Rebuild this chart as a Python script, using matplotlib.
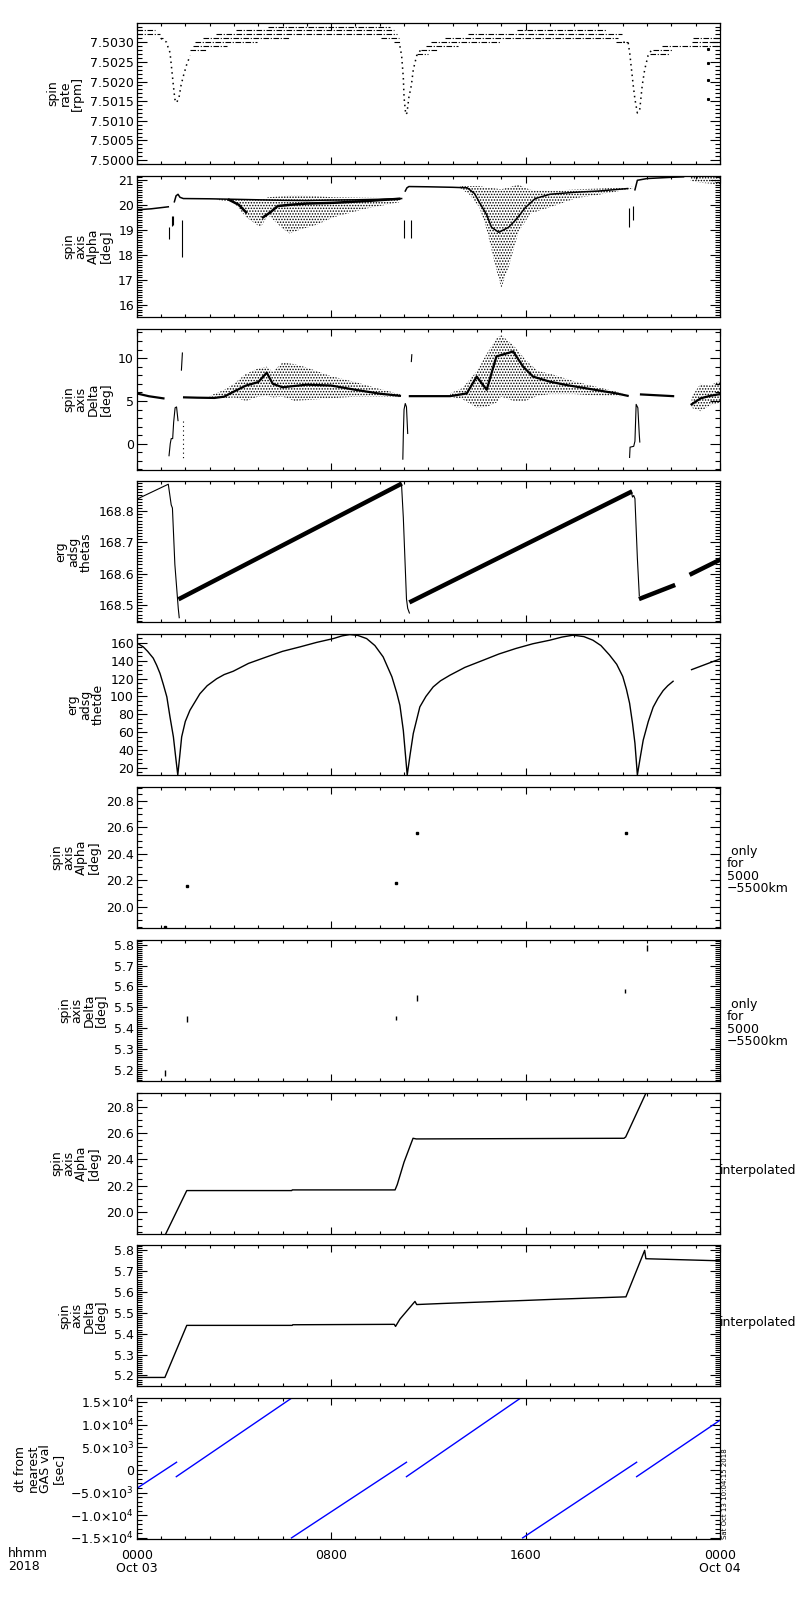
import matplotlib
matplotlib.use('Agg')
import matplotlib.pyplot as plt
from matplotlib.ticker import MultipleLocator, FormatStrFormatter, FuncFormatter, FixedLocator, FixedFormatter
import numpy as np

nan = np.nan

# ---------------- panel 1: spin rate [rpm] ----------------
# quantised levels drawn as horizontal dashed runs (start hour, end hour, level)
rateSegStart = [0.0, 0.0, 0.97, 2.20, 2.33, 2.40, 2.72, 3.27, 4.10, 5.41, 10.05, 10.60,
                11.52, 11.68, 11.90, 12.10, 12.68, 13.64, 15.63, 19.74, 21.11, 21.25, 21.60, 22.83, 22.90]
rateSegEnd = [0.75, 0.97, 1.10, 2.90, 3.70, 4.95, 6.30, 10.70, 10.60, 10.42, 10.80, 10.85,
              12.00, 12.38, 13.23, 14.94, 19.80, 19.95, 19.33, 20.22, 21.94, 22.07, 24.0, 24.0, 24.0]
rateSegLevel = [7.5033, 7.5032, 7.5031, 7.5028, 7.5029, 7.5030, 7.5031, 7.5032, 7.5033, 7.5034, 7.5031, 7.5030,
                7.5027, 7.5028, 7.5029, 7.5030, 7.5031, 7.5032, 7.5033, 7.5030, 7.5027, 7.5028, 7.5029, 7.5030, 7.5031]
# the three perigee dips
rateDipHour = [1.00, 1.23, 1.30, 1.37, 1.44, 1.51, 1.57, 1.64, 1.74, 1.82, 1.92, 2.06, 2.20, nan,
               10.83, 10.90, 10.97, 11.00, 11.07, 11.12, 11.20, 11.30, 11.38, 11.52, 11.68, nan,
               20.02, 20.22, 20.29, 20.36, 20.43, 20.50, 20.60, 20.70, 20.80, 20.90, 21.04, 21.18]
rateDipRpm = [7.5031, 7.5030, 7.50285, 7.50274, 7.50232, 7.50189, 7.50155, 7.50146, 7.50159, 7.50189, 7.50214, 7.50244, 7.50266, nan,
              7.5029, 7.50266, 7.5021, 7.5016, 7.50116, 7.5012, 7.5016, 7.5019, 7.5023, 7.50266, 7.5028, nan,
              7.5030, 7.5030, 7.5027, 7.5023, 7.5019, 7.50155, 7.5012, 7.5013, 7.5019, 7.5023, 7.50266, 7.5028]
rateOddHour = [23.51, 23.51, 23.51, 23.51]
rateOddRpm = [7.50282, 7.50248, 7.50205, 7.50155]

# ---------------- panel 2: spin axis alpha [deg] ----------------
alphaLineHour = [0.0, 0.6, 1.30, nan,
                 1.55, 1.62, 1.70, 1.78, 1.92, 3.0, 4.0, 5.0, 6.0, 7.0, 8.0, 9.0, 10.0, 10.9, nan,
                 11.05, 11.12, 11.20, 12.0, 13.0, 13.6, 13.9, 14.1, 14.4, 14.6, 14.9, 15.3, 15.6, 16.0, 16.4, 17.0, 18.0, 19.0, 20.2, nan,
                 20.5, 20.6, 21.0, 22.0, 22.5]
alphaLineDeg = [19.80, 19.84, 19.92, nan,
                20.12, 20.36, 20.42, 20.30, 20.25, 20.24, 20.22, 20.20, 20.18, 20.17, 20.19, 20.20, 20.22, 20.25, nan,
                20.55, 20.68, 20.73, 20.72, 20.70, 20.68, 20.45, 20.10, 19.60, 19.10, 18.90, 19.10, 19.40, 19.90, 20.25, 20.42, 20.50, 20.55, 20.65, nan,
                20.60, 20.98, 21.05, 21.10, 21.12]
alphaCoreHour = [3.8, 4.2, 4.5, nan, 5.2, 5.5, 5.8, 6.3, 7.0, 8.1, 9.45, 10.8]
alphaCoreDeg = [20.2, 20.0, 19.7, nan, 19.5, 19.7, 19.95, 20.0, 20.05, 20.08, 20.15, 20.24]
# scattered regions (lower / upper envelope)
alphaBand1Hour = [3.3, 4.0, 4.5, 5.1, 5.4, 6.0, 6.3, 6.7, 7.4, 8.1, 9.45, 10.8]
alphaBand1Lo = [20.2, 20.1, 19.5, 19.1, 19.6, 19.05, 18.85, 19.0, 19.2, 19.5, 19.85, 20.1]
alphaBand1Hi = [20.25, 20.25, 20.25, 20.2, 20.3, 20.35, 20.38, 20.38, 20.35, 20.3, 20.28, 20.26]
alphaBand2Hour = [13.3, 13.7, 14.1, 14.4, 14.8, 15.0, 15.3, 15.7, 16.2, 17.0, 18.1, 19.0, 20.4]
alphaBand2Lo = [20.68, 20.4, 19.9, 19.0, 17.4, 16.67, 17.5, 18.9, 19.65, 19.9, 20.27, 20.4, 20.65]
alphaBand2Hi = [20.75, 20.75, 20.75, 20.7, 20.65, 20.62, 20.7, 20.8, 20.6, 20.55, 20.62, 20.65, 20.72]
alphaBand3Hour = [22.8, 23.2, 23.6, 24.0]
alphaBand3Lo = [20.95, 20.88, 20.85, 20.8]
alphaBand3Hi = [21.16, 21.16, 21.16, 21.16]
alphaSpikeHour = [1.34, 1.44, 1.50, 1.85, 10.98, 11.30, 20.26, 20.40]
alphaSpikeLo = [18.62, 19.17, 19.20, 17.93, 18.67, 18.67, 19.13, 19.40]
alphaSpikeHi = [19.10, 19.57, 19.55, 19.40, 19.40, 19.40, 19.87, 19.95]

# ---------------- panel 3: spin axis delta [deg] ----------------
deltaLineHour = [0.0, 0.5, 1.1, nan,
                 1.95, 2.5, 3.2, 3.6, 4.0, 4.5, 5.0, 5.35, 5.6, 6.0, 7.0, 8.0, 9.0, 10.0, 10.83, nan,
                 11.24, 12.9, 13.58, 13.99, 14.4, 14.8, 15.49, 15.9, 16.31, 17.0, 17.68, 18.5, 19.74, 20.2, nan,
                 20.75, 22.07, nan,
                 22.83, 23.2, 23.6, 24.0]
deltaLineDeg = [5.88, 5.55, 5.3, nan,
                5.42, 5.38, 5.35, 5.5, 6.1, 6.8, 7.2, 8.3, 7.0, 6.6, 6.9, 6.8, 6.3, 5.85, 5.6, nan,
                5.56, 5.56, 5.88, 7.84, 6.3, 10.2, 10.78, 9.0, 7.84, 7.25, 6.86, 6.47, 5.88, 5.6, nan,
                5.76, 5.56, nan,
                4.6, 5.3, 5.6, 5.8]
deltaSpikeHour = [1.33, 1.38, 1.42, 1.48, 1.52, 1.58, 1.64, 1.70, nan, 1.84, 1.88, nan,
                  10.95, 10.97, 11.0, 11.05, 11.1, 11.15, nan, 11.3, 11.32, nan,
                  20.28, 20.3, 20.45, 20.5, 20.55, 20.62, 20.68, 20.7]
deltaSpikeDeg = [-1.4, 0.0, 0.6, 0.6, 2.5, 4.2, 4.3, 2.7, nan, 8.6, 10.6, nan,
                 -1.8, 1.0, 4.0, 4.7, 4.3, 1.2, nan, 9.6, 10.4, nan,
                 -1.6, -0.4, -0.3, 0.3, 4.6, 4.2, 1.0, 0.2]
deltaBand1Hour = [3.0, 3.6, 4.0, 4.5, 5.0, 5.35, 5.6, 6.0, 6.5, 7.0, 8.0, 9.0, 10.0, 10.83]
deltaBand1Lo = [5.3, 5.3, 5.4, 5.0, 5.5, 5.6, 5.4, 5.5, 5.0, 5.1, 5.3, 5.5, 5.5, 5.45]
deltaBand1Hi = [5.6, 6.3, 7.0, 8.2, 8.8, 9.0, 8.4, 9.5, 9.3, 8.9, 7.9, 7.2, 6.4, 5.8]
deltaBand2Hour = [12.9, 13.4, 14.0, 14.4, 14.8, 15.0, 15.5, 16.0, 16.5, 17.0, 18.0, 19.0, 20.0]
deltaBand2Lo = [5.5, 5.2, 4.2, 4.3, 4.8, 5.5, 5.0, 5.0, 5.6, 5.8, 5.8, 5.6, 5.55]
deltaBand2Hi = [5.9, 6.5, 8.5, 10.5, 12.3, 12.7, 11.5, 9.8, 8.5, 8.2, 7.3, 6.6, 5.9]
deltaBand3Hour = [22.83, 23.2, 23.6, 24.0]
deltaBand3Lo = [4.2, 3.8, 4.5, 4.8]
deltaBand3Hi = [5.5, 7.0, 6.8, 7.4]

# ---------------- panel 4: erg adsg thetas ----------------
thetasLineHour = [0.0, 1.3, 1.42, 1.47, 1.57, 1.64, 1.71, 1.75, nan,
                  10.83, 10.9, 10.97, 11.05, 11.1, 11.15, 11.22, nan,
                  20.34, 20.4, 20.45, 20.5, 20.6, 20.68]
thetasLineVal = [168.838, 168.886, 168.82, 168.81, 168.63, 168.56, 168.49, 168.46, nan,
                 168.89, 168.88, 168.78, 168.62, 168.52, 168.49, 168.475, nan,
                 168.865, 168.845, 168.85, 168.84, 168.65, 168.53]
thetasBandHour = [1.8, 10.83, nan, 11.3, 20.3, nan, 20.75, 22.07, nan, 22.83, 24.0]
thetasBandVal = [168.522, 168.885, nan, 168.512, 168.860, nan, 168.522, 168.562, nan, 168.600, 168.645]

# ---------------- panel 5: erg adsg thetde ----------------
thetdeHour = [0.0, 0.27, 0.45, 0.68, 0.82, 0.96, 1.1, 1.24, 1.37, 1.51, 1.6, 1.69, 1.77, 1.85, 2.0, 2.19, 2.6, 2.9,
              3.29, 3.6, 3.97, 4.6, 5.35, 6.0, 6.72, 7.4, 8.09, 8.45, 8.77, 9.1, 9.46, 9.8, 10.14, 10.5, 10.7,
              10.83, 10.97, 11.13, 11.25, 11.38, 11.65, 11.9, 12.2, 12.5, 12.89, 13.5, 14.26, 14.9, 15.6, 16.3,
              17.0, 17.5, 17.95, 18.4, 18.77, 19.1, 19.45, 19.75, 20.0, 20.15, 20.28, 20.4, 20.5, 20.55, 20.6,
              20.72, 20.84, 21.05, 21.25, 21.45, 21.66, 21.85, 22.07, nan, 22.83, 24.0]
thetdeVal = [160, 155.5, 150.5, 142.9, 135, 125.7, 113, 99.5, 77, 54.7, 33, 12, 33, 54.7, 72, 84.5, 103, 112,
             119.8, 124.5, 128.2, 137, 144.3, 150.5, 155.5, 160.5, 164.8, 167.8, 169.3, 168.3, 164.8, 157, 144.3, 122, 104,
             90, 62, 12, 35, 58.5, 88.3, 100, 110.7, 117.5, 123.8, 132.5, 140.6, 147.5, 153.7, 159,
             163, 166.5, 168.6, 167, 163, 157, 146.5, 136, 122.3, 108, 92.4, 70, 47.6, 30, 12,
             32, 51, 72, 88, 98, 106.5, 112, 117, nan, 130, 142]

# ---------------- panel 6 / 7: only for 5000-5500 km ----------------
alphaOnlyHour = [1.16, 2.06, 10.65, 11.52, 20.13]
alphaOnlyDeg = [19.85, 20.16, 20.18, 20.56, 20.56]
deltaOnlyHour = [1.16, 2.06, 10.65, 11.52, 20.09, 20.98]
deltaOnlyLo = [5.17, 5.43, 5.44, 5.53, 5.57, 5.77]
deltaOnlyHi = [5.20, 5.46, 5.46, 5.56, 5.59, 5.80]

# ---------------- panel 8 / 9: interpolated ----------------
alphaInterpHour = [1.2, 2.06, 6.38, 6.40, 10.63, 10.72, 11.0, 11.37, 11.5, 20.05, 20.12, 20.95]
alphaInterpDeg = [19.84, 20.165, 20.165, 20.17, 20.17, 20.21, 20.38, 20.56, 20.555, 20.56, 20.57, 20.9]
deltaInterpHour = [0.0, 1.16, 2.06, 6.4, 6.42, 10.6, 10.65, 10.83, 11.45, 11.52, 12.55, 13.71, 14.88, 16.04,
                   17.14, 18.37, 20.13, 20.9, 20.95, 24.0]
deltaInterpDeg = [5.19, 5.19, 5.44, 5.44, 5.443, 5.445, 5.435, 5.47, 5.555, 5.54, 5.545, 5.55, 5.555, 5.56,
                  5.565, 5.57, 5.577, 5.80, 5.76, 5.75]

# ---------------- panel 10: dt from nearest GAS val [sec] ----------------
dtHour = [0.0, 1.64, nan, 1.63, 6.35, nan, 6.37, 11.1, nan, 11.1, 15.77, nan, 15.88, 20.57, nan, 20.57, 24.0]
dtSec = [-4090, 1690, nan, -1490, 15750, nan, -15000, 1690, nan, -1490, 15750, nan, -15000, 1690, nan, -1490, 10960]

xTickHours = [0, 8, 16, 24]
xTickLabels = ['0000\nOct 03', '0800', '1600', '0000\nOct 04']

plt.rcParams['font.family'] = 'DejaVu Sans'
plt.rcParams['mathtext.fontset'] = 'dejavusans'
plt.rcParams['hatch.linewidth'] = 0.7
plt.rcParams['axes.linewidth'] = 0.9

FS = 9
LW = 0.8


def makeAxes(fig, i):
    # panel geometry measured in pixels of the 800x1600 page
    top = 23 + i * 152.8
    return fig.add_axes([136.7 / 800, 1 - (top + 141) / 1600, 583.3 / 800, 141 / 1600])


def styleAxis(ax, ylim, major, minor, fmt, label):
    ax.set_xlim(0, 24)
    ax.set_ylim(*ylim)
    ax.xaxis.set_major_locator(FixedLocator(xTickHours))
    ax.xaxis.set_minor_locator(MultipleLocator(1))
    ax.yaxis.set_major_locator(MultipleLocator(major))
    ax.yaxis.set_minor_locator(MultipleLocator(minor))
    if fmt is not None:
        ax.yaxis.set_major_formatter(fmt)
    ax.tick_params(which='both', direction='in', top=True, right=True, labelsize=FS, width=0.8)
    ax.tick_params(axis='y', which='major', length=7, pad=2)
    ax.tick_params(axis='y', which='minor', length=3.5)
    ax.tick_params(axis='x', which='major', length=5)
    ax.tick_params(axis='x', which='minor', length=2.5)
    ax.tick_params(labelbottom=False)
    ax.set_ylabel(label, fontsize=FS, linespacing=0.95, labelpad=4)


def band(ax, h, lo, hi):
    # stippled area standing in for the scattered points
    ax.fill_between(h, lo, hi, facecolor='none', edgecolor='black', hatch='......', linewidth=0)


def sciFormat(v, pos):
    if abs(v) < 1e-6:
        return '0'
    e = int(np.floor(np.log10(abs(v)) + 1e-9))
    m = v / 10 ** e
    s = '%.1f' % abs(m)
    sign = '\u2212' if v < 0 else ''
    return sign + s + '\u00d710$^{%d}$' % e


fig = plt.figure(figsize=(8, 16), dpi=100)
axs = [makeAxes(fig, i) for i in range(10)]

# 1 spin rate
ax = axs[0]
ax.hlines(rateSegLevel, rateSegStart, rateSegEnd, colors='black', linewidth=LW, linestyles=(0, (5, 1.5, 1, 1.5)))
ax.plot(rateDipHour, rateDipRpm, color='black', linestyle=(0, (1, 2.5)), linewidth=1.1)
ax.plot(rateOddHour, rateOddRpm, 's', color='black', markersize=1.2)
styleAxis(ax, (7.49990, 7.50349), 0.0005, 0.0001, FormatStrFormatter('%.4f'), 'spin\nrate\n[rpm]')

# 2 spin axis alpha
ax = axs[1]
band(ax, alphaBand1Hour, alphaBand1Lo, alphaBand1Hi)
band(ax, alphaBand2Hour, alphaBand2Lo, alphaBand2Hi)
band(ax, alphaBand3Hour, alphaBand3Lo, alphaBand3Hi)
ax.plot(alphaLineHour, alphaLineDeg, color='black', linewidth=1.1)
ax.plot(alphaCoreHour, alphaCoreDeg, color='black', linewidth=1.8)
ax.vlines(alphaSpikeHour, alphaSpikeLo, alphaSpikeHi, colors='black', linewidth=LW)
styleAxis(ax, (15.52, 21.16), 1, 0.1, FormatStrFormatter('%d'), 'spin\naxis\nAlpha\n[deg]')

# 3 spin axis delta
ax = axs[2]
band(ax, deltaBand1Hour, deltaBand1Lo, deltaBand1Hi)
band(ax, deltaBand2Hour, deltaBand2Lo, deltaBand2Hi)
band(ax, deltaBand3Hour, deltaBand3Lo, deltaBand3Hi)
ax.plot(deltaLineHour, deltaLineDeg, color='black', linewidth=1.6)
ax.plot(deltaSpikeHour, deltaSpikeDeg, color='black', linewidth=LW)
ax.plot([1.92, 1.92], [2.7, -2.0], color='black', linestyle=(0, (1, 3)), linewidth=LW)
styleAxis(ax, (-3.02, 13.45), 5, 1, FormatStrFormatter('%d'), 'spin\naxis\nDelta\n[deg]')

# 4 thetas
ax = axs[3]
ax.plot(thetasLineHour, thetasLineVal, color='black', linewidth=LW)
ax.plot(thetasBandHour, thetasBandVal, color='black', linewidth=3.2)
styleAxis(ax, (168.445, 168.895), 0.1, 0.01, FormatStrFormatter('%.1f'), 'erg\nadsg\nthetas')

# 5 thetde
ax = axs[4]
ax.plot(thetdeHour, thetdeVal, color='black', linewidth=1.0)
styleAxis(ax, (11.8, 169.7), 20, 5, FormatStrFormatter('%d'), 'erg\nadsg\nthetde')

# 6 alpha only for 5000-5500 km
ax = axs[5]
ax.plot(alphaOnlyHour, alphaOnlyDeg, 's', color='black', markersize=1.5)
styleAxis(ax, (19.84, 20.905), 0.2, 0.05, FormatStrFormatter('%.1f'), 'spin\naxis\nAlpha\n[deg]')
ax.text(1.012, 0.41, ' only\nfor\n5000\n\u22125500km', transform=ax.transAxes, fontsize=FS,
        ha='left', va='center', linespacing=0.95)

# 7 delta only for 5000-5500 km
ax = axs[6]
ax.vlines(deltaOnlyHour, deltaOnlyLo, deltaOnlyHi, colors='black', linewidth=1.0)
styleAxis(ax, (5.147, 5.824), 0.1, 0.01, FormatStrFormatter('%.1f'), 'spin\naxis\nDelta\n[deg]')
ax.text(1.012, 0.41, ' only\nfor\n5000\n\u22125500km', transform=ax.transAxes, fontsize=FS,
        ha='left', va='center', linespacing=0.95)

# 8 alpha interpolated
ax = axs[7]
ax.plot(alphaInterpHour, alphaInterpDeg, color='black', linewidth=1.0)
styleAxis(ax, (19.84, 20.905), 0.2, 0.05, FormatStrFormatter('%.1f'), 'spin\naxis\nAlpha\n[deg]')
ax.text(1.0, 0.45, 'interpolated', transform=ax.transAxes, fontsize=FS, ha='left', va='center')

# 9 delta interpolated
ax = axs[8]
ax.plot(deltaInterpHour, deltaInterpDeg, color='black', linewidth=1.0)
styleAxis(ax, (5.147, 5.824), 0.1, 0.01, FormatStrFormatter('%.1f'), 'spin\naxis\nDelta\n[deg]')
ax.text(1.0, 0.45, 'interpolated', transform=ax.transAxes, fontsize=FS, ha='left', va='center')

# 10 dt from nearest GAS value
ax = axs[9]
ax.plot(dtHour, dtSec, color='#0000ff', linewidth=1.0)
styleAxis(ax, (-15290, 15820), 5000, 1000, FuncFormatter(sciFormat), 'dt from\nnearest\nGAS val\n[sec]')
ax.xaxis.set_major_formatter(FixedFormatter(xTickLabels))
ax.tick_params(labelbottom=True)
ax.tick_params(axis='x', which='major', pad=7)
for t in ax.get_xticklabels():
    t.set_linespacing(1.0)
ax.text(1.004, 0.0, 'Sat Oct 13 10:04:15 2018', transform=ax.transAxes, fontsize=5,
        rotation=90, ha='left', va='bottom')

fig.text(8 / 800, 1 - 1547 / 1600, 'hhmm\n2018', fontsize=FS, ha='left', va='top', linespacing=1.0)

fig.savefig('out.png', dpi=100)
